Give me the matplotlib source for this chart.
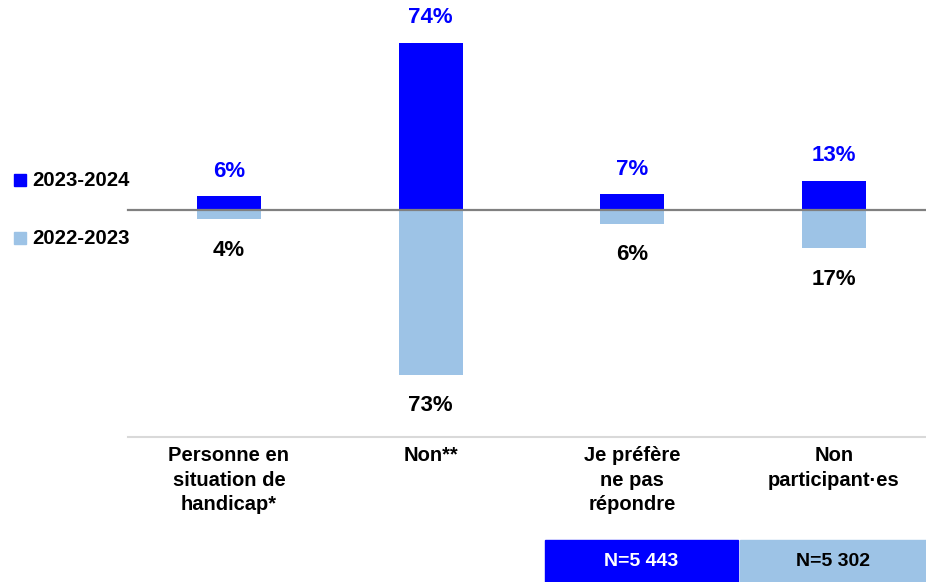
import matplotlib
matplotlib.use("Agg")
import matplotlib.pyplot as plt
import matplotlib.transforms as mtransforms
from matplotlib.patches import Rectangle

categories = ["Personne en\nsituation de\nhandicap*", "Non**", "Je préfère\nne pas\nrépondre", "Non\nparticipant·es"]
values_2024 = [6, 74, 7, 13]
values_2023 = [4, 73, 6, 17]
series_labels = ["2023-2024", "2022-2023"]
n_labels = ["N=5 443", "N=5 302"]

BLUE = "#0000FF"
LIGHT = "#9DC3E6"
FONT = "Liberation Sans"

W, H = 926, 582
fig = plt.figure(figsize=(W / 100, H / 100), dpi=100)
ax = fig.add_axes([0, 0, 1, 1])

px_per_cat = 201.67
px_per_pct = 2.257
x0_px, y0_px = 229, 210
ax.set_xlim(-x0_px / px_per_cat, (W - x0_px) / px_per_cat)
ax.set_ylim(-(H - y0_px) / px_per_pct, y0_px / px_per_pct)
ax.axis("off")

x = list(range(len(categories)))
width = 64 / px_per_cat
ax.bar(x, values_2024, width, color=BLUE, zorder=2)
ax.bar(x, [-v for v in values_2023], width, color=LIGHT, zorder=2)
ax.plot([-0.5, ax.get_xlim()[1]], [0, 0], color="#808080", lw=1.6, zorder=3)

for xi, v in zip(x, values_2024):
    ax.annotate(f"{v}%", (xi, v), xytext=(0, 25), textcoords="offset pixels",
                ha="center", va="center", color=BLUE, fontsize=16,
                fontweight="bold", family=FONT)
for xi, v in zip(x, values_2023):
    ax.annotate(f"{v}%", (xi, -v), xytext=(0, -31), textcoords="offset pixels",
                ha="center", va="center", color="black", fontsize=16,
                fontweight="bold", family=FONT)

blend = mtransforms.blended_transform_factory(ax.transData, ax.transAxes)
sep_y = 1 - 437 / H
ax.plot([-0.5, ax.get_xlim()[1]], [sep_y, sep_y], color="#D9D9D9", lw=1.5,
        transform=blend)
for xi, c in zip(x, categories):
    ax.text(xi, 1 - 446 / H, c, transform=blend, ha="center", va="top",
            fontsize=14.5, fontweight="bold", family=FONT, linespacing=1.38,
            multialignment="center")

# legend
for (lab, col, yc) in [(series_labels[0], BLUE, 180), (series_labels[1], LIGHT, 238)]:
    fig.patches.append(Rectangle((14 / W, 1 - (yc + 6) / H), 12 / W, 12 / H,
                                 color=col, transform=fig.transFigure))
    fig.text(32 / W, 1 - yc / H, lab, ha="left", va="center", fontsize=14.7,
             fontweight="bold", family=FONT)

# N boxes
boxes = [(545, 738, BLUE, "white", n_labels[0]), (740, 926, LIGHT, "black", n_labels[1])]
for (xa, xb, col, tc, lab) in boxes:
    fig.patches.append(Rectangle((xa / W, 0), (xb - xa) / W, 42 / H,
                                 color=col, transform=fig.transFigure))
    fig.text((xa + xb) / 2 / W, 21 / H, lab, ha="center", va="center",
             fontsize=14, fontweight="bold", color=tc, family=FONT)

fig.savefig("out.png", dpi=100)
